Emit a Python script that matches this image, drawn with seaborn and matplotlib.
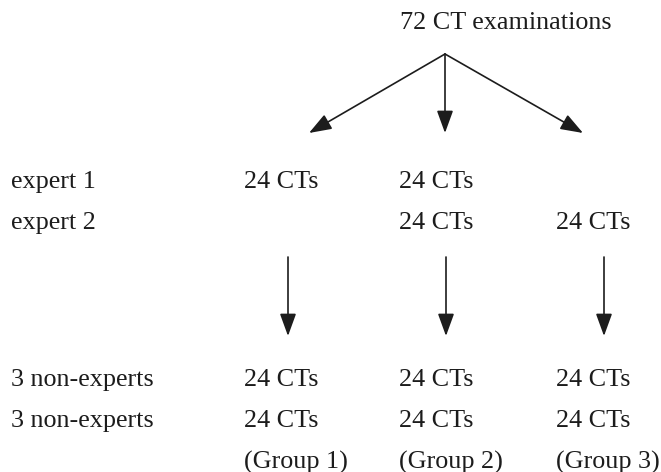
"""Study design flow: 72 CT examinations split between experts and non-experts."""

import matplotlib
matplotlib.use("Agg")
import matplotlib.pyplot as plt
import seaborn as sns

# chart content
total_label = "72 CT examinations"
reader_labels = ["expert 1", "expert 2", "3 non-experts", "3 non-experts"]
group_labels = ["(Group 1)", "(Group 2)", "(Group 3)"]
# CTs read per reader row and group (0 = not read)
ct_counts = [
    [24, 24, 0],
    [0, 24, 24],
    [24, 24, 24],
    [24, 24, 24],
]

# layout in pixel space (figure is 661 x 472)
W, H = 661, 472
col_x = [244, 399, 556]
row_y = [182, 223, 380, 421]
group_y = 462
label_x = 11
title_xy = (400, 23)
apex = (445, 54)
split_tips = [(309, 133), (445, 133), (583, 133)]
down_x = [288, 446, 604]
down_y = (257, 336)

sns.set_theme(style="white")
plt.rcParams["font.family"] = ["Liberation Serif", "DejaVu Serif"]
ink = "#1c1c1c"
fs = 18.8

fig = plt.figure(figsize=(W / 100, H / 100), dpi=100)
ax = fig.add_axes([0, 0, 1, 1])
ax.set_xlim(0, W)
ax.set_ylim(H, 0)
ax.axis("off")

arrow = dict(arrowstyle="-|>,head_length=0.55,head_width=0.2", mutation_scale=25,
             lw=1.2, color=ink, shrinkA=0, shrinkB=0)

ax.text(*title_xy, total_label, fontsize=fs, color=ink, ha="left", va="center")
for tip in split_tips:
    ax.annotate("", xy=tip, xytext=apex, arrowprops=arrow)

for label, y, counts in zip(reader_labels, row_y, ct_counts):
    ax.text(label_x, y, label, fontsize=fs, color=ink, ha="left", va="center")
    for x, n in zip(col_x, counts):
        if n:
            ax.text(x, y, f"{n} CTs", fontsize=fs, color=ink, ha="left", va="center")

for x in down_x:
    ax.annotate("", xy=(x, down_y[1]), xytext=(x, down_y[0]), arrowprops=arrow)

for x, g in zip(col_x, group_labels):
    ax.text(x, group_y, g, fontsize=fs, color=ink, ha="left", va="center")

fig.savefig("out.png", dpi=100, facecolor="white")
plt.close(fig)
